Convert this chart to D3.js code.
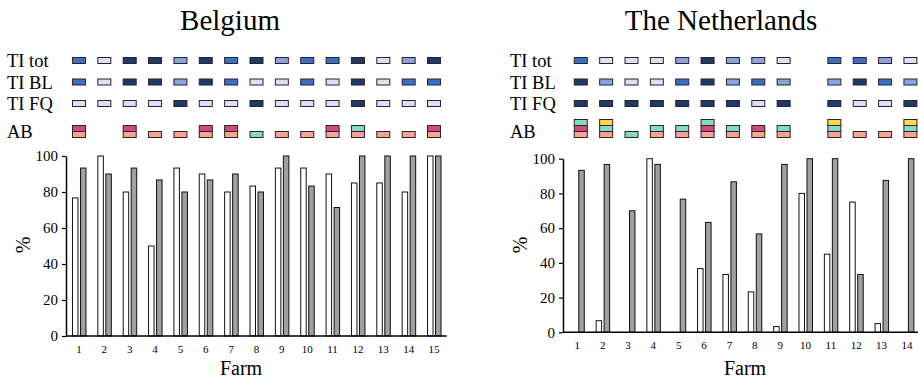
<!DOCTYPE html>
<html>
<head>
<meta charset="utf-8">
<script src="https://cdn.jsdelivr.net/npm/d3@7"></script>
<style>
  body { margin: 0; background: #fff; }
  svg text { font-family: "Liberation Serif", "Times New Roman", Times, serif !important; }
</style>
</head>
<body>
<div id="chart"></div>
<script>
'use strict';

// Farm categories
const beFarms = ['1', '2', '3', '4', '5', '6', '7', '8', '9', '10', '11', '12', '13', '14', '15'];
const nlFarms = ['1', '2', '3', '4', '5', '6', '7', '8', '9', '10', '11', '12', '13', '14'];

// Bar values (%) - white and grey series
const beWhite = [76.7, 100, 80, 50, 93.3, 90, 80, 83.3, 93.3, 93.3, 90, 85, 85, 80, 100];
const beGrey = [93.3, 90, 93.3, 86.7, 80, 86.7, 90, 80, 100, 83.3, 71.4, 100, 100, 100, 100];
const nlWhite = [0, 6.7, 0, 100, 0, 36.7, 33.3, 23.3, 3.3, 80, 45, 75, 5, 0];
const nlGrey = [93.3, 96.7, 70, 96.7, 76.7, 63.3, 86.7, 56.7, 96.7, 100, 100, 33.3, 87.5, 100];

// TI levels per farm (0 = lowest ... 3 = highest, null = no data)
const beTiTot = [2, 0, 3, 3, 1, 3, 2, 3, 1, 2, 2, 3, 0, 1, 3];
const beTiBl = [2, 0, 3, 3, 1, 3, 2, 0, 0, 2, 0, 3, 0, 2, 2];
const beTiFq = [0, 0, 0, 0, 3, 0, 0, 3, 0, 0, 0, 3, 0, 0, 0];
const nlTiTot = [2, 0, 0, 0, 1, 3, 1, 1, 0, null, 2, 2, 1, 0];
const nlTiBl = [3, 1, 0, 0, 2, 3, 1, 2, 1, null, 1, 3, 2, 1];
const nlTiFq = [3, 3, 3, 3, 3, 3, 3, 0, 3, null, 3, 0, 0, 3];

// Antibiotic classes per farm, stacked bottom to top
const beAb = [['S', 'M'], [], ['S', 'M'], ['S'], ['S'], ['S', 'M'], ['S', 'M'], ['T'], ['S'], ['S'], ['S', 'M'], ['S', 'T'], ['S'], ['S'], ['S', 'M']];
const nlAb = [['S', 'M', 'T'], ['S', 'T', 'Y'], ['T'], ['S', 'T'], ['S', 'T'], ['S', 'M', 'T'], ['S', 'T'], ['S', 'M'], ['S', 'T'], [], ['S', 'T', 'Y'], ['S'], ['S'], ['S', 'T', 'Y']];

const yTicks = [0, 20, 40, 60, 80, 100];
const rowLabels = ['TI tot', 'TI BL', 'TI FQ', 'AB'];

// Colours
const tiColors = ['#d9e2f4', '#85a5dc', '#3a6fc6', '#1f396b'];
const abColors = { S: '#fba294', M: '#d2497c', T: '#82dbc5', Y: '#ffd94c' };
const serif = '"Liberation Serif", "Times New Roman", serif';

const svg = d3.select('#chart').append('svg')
  .attr('width', 918)
  .attr('height', 382)
  .attr('font-family', serif);

svg.append('rect').attr('width', 918).attr('height', 382).attr('fill', '#fff');


// Draw one country panel
function drawPanel(p) {
  const g = svg.append('g').attr('font-family', serif);

  const x = d3.scaleBand().domain(p.farms).range(p.xRange).paddingInner(0).paddingOuter(0);
  const y = d3.scaleLinear().domain([0, 100]).range(p.yRange);
  const cx = d => x(d) + x.bandwidth() / 2;

  // Title
  g.append('text')
    .attr('x', p.titleX)
    .attr('y', 30)
    .attr('text-anchor', 'middle')
    .attr('font-family', serif)
    .style('font-size', '29px')
    .text(p.title);

  // Row labels
  const labelY = [67, 88.5, 110, 138];
  rowLabels.forEach((t, i) => {
    g.append('text')
      .attr('x', p.labelX)
      .attr('y', labelY[i])
      .attr('font-family', serif)
      .style('font-size', '18.5px')
      .text(t);
  });

  // TI tiles
  const tiRows = [p.tiTot, p.tiBl, p.tiFq];
  const tiTop = [57.5, 79, 100.5];
  tiRows.forEach((row, r) => {
    g.append('g').selectAll('rect')
      .data(p.farms.map((f, i) => ({ farm: f, v: row[i] })).filter(d => d.v !== null))
      .enter().append('rect')
      .attr('x', d => cx(d.farm) + p.tileShift - 6.5)
      .attr('y', tiTop[r])
      .attr('width', 13)
      .attr('height', 6)
      .attr('fill', d => tiColors[d.v])
      .attr('stroke', '#2b2326')
      .attr('stroke-width', 1);
  });

  // AB stacked tiles
  const abTiles = [];
  p.ab.forEach((list, i) => {
    list.forEach((code, k) => abTiles.push({ farm: p.farms[i], code: code, k: k }));
  });
  g.append('g').selectAll('rect')
    .data(abTiles)
    .enter().append('rect')
    .attr('x', d => cx(d.farm) + p.tileShift - 6.5)
    .attr('y', d => 131.5 - d.k * 6)
    .attr('width', 13)
    .attr('height', 6)
    .attr('fill', d => abColors[d.code])
    .attr('stroke', '#2b2326')
    .attr('stroke-width', 1);

  // Bars
  const bars = p.farms.map((f, i) => ({ farm: f, w: p.white[i], g: p.grey[i] }));
  g.append('g').selectAll('rect')
    .data(bars)
    .enter().append('rect')
    .attr('x', d => cx(d.farm) - 6.5)
    .attr('y', d => y(d.w))
    .attr('width', 5.5)
    .attr('height', d => y(0) - y(d.w))
    .attr('fill', '#fff')
    .attr('stroke', '#111')
    .attr('stroke-width', 1);
  g.append('g').selectAll('rect')
    .data(bars)
    .enter().append('rect')
    .attr('x', d => cx(d.farm) + 1.5)
    .attr('y', d => y(d.g))
    .attr('width', 5.5)
    .attr('height', d => y(0) - y(d.g))
    .attr('fill', '#a0a0a0')
    .attr('stroke', '#111')
    .attr('stroke-width', 1);

  // Y axis
  const yAxis = g.append('g')
    .attr('transform', `translate(${p.axisX}, 0)`)
    .call(d3.axisLeft(y).tickValues(yTicks).tickSize(4).tickSizeOuter(0).tickPadding(4))
    .attr('font-family', serif);
  yAxis.select('.domain').attr('stroke', '#000').attr('stroke-width', 1.5);
  yAxis.selectAll('.tick line').attr('stroke', '#000').attr('stroke-width', 1.2);
  yAxis.selectAll('text')
    .style('font-size', '15px')
    .attr('fill', '#000');

  // X axis
  const xAxis = g.append('g')
    .attr('transform', `translate(0, ${y(0)})`)
    .call(d3.axisBottom(x).tickSize(0).tickPadding(9))
    .attr('font-family', serif);
  xAxis.select('.domain').remove();
  xAxis.selectAll('text')
    .style('font-size', '11px')
    .attr('fill', '#000');
  g.append('line')
    .attr('x1', p.axisX)
    .attr('x2', p.xRange[1])
    .attr('y1', y(0))
    .attr('y2', y(0))
    .attr('stroke', '#000')
    .attr('stroke-width', 1.5);

  // Axis titles
  g.append('text')
    .attr('transform', `translate(${p.pctX}, 245) rotate(-90)`)
    .attr('text-anchor', 'middle')
    .attr('font-family', serif)
    .style('font-size', '20px')
    .text('%');
  g.append('text')
    .attr('x', p.farmX)
    .attr('y', 375)
    .attr('text-anchor', 'middle')
    .attr('font-family', serif)
    .style('font-size', '20px')
    .text('Farm');
}


drawPanel({
  title: 'Belgium', titleX: 230,
  farms: beFarms, white: beWhite, grey: beGrey,
  tiTot: beTiTot, tiBl: beTiBl, tiFq: beTiFq, ab: beAb,
  xRange: [66.3, 446.7], yRange: [336, 156], axisX: 66,
  tileShift: 0, labelX: 7, pctX: 30, farmX: 241
});

drawPanel({
  title: 'The Netherlands', titleX: 721,
  farms: nlFarms, white: nlWhite, grey: nlGrey,
  tiTot: nlTiTot, tiBl: nlTiBl, tiFq: nlTiFq, ab: nlAb,
  xRange: [564.6, 919.6], yRange: [332.3, 158.7], axisX: 563,
  tileShift: 3.5, labelX: 510, pctX: 527, farmX: 745
});
</script>
</body>
</html>
